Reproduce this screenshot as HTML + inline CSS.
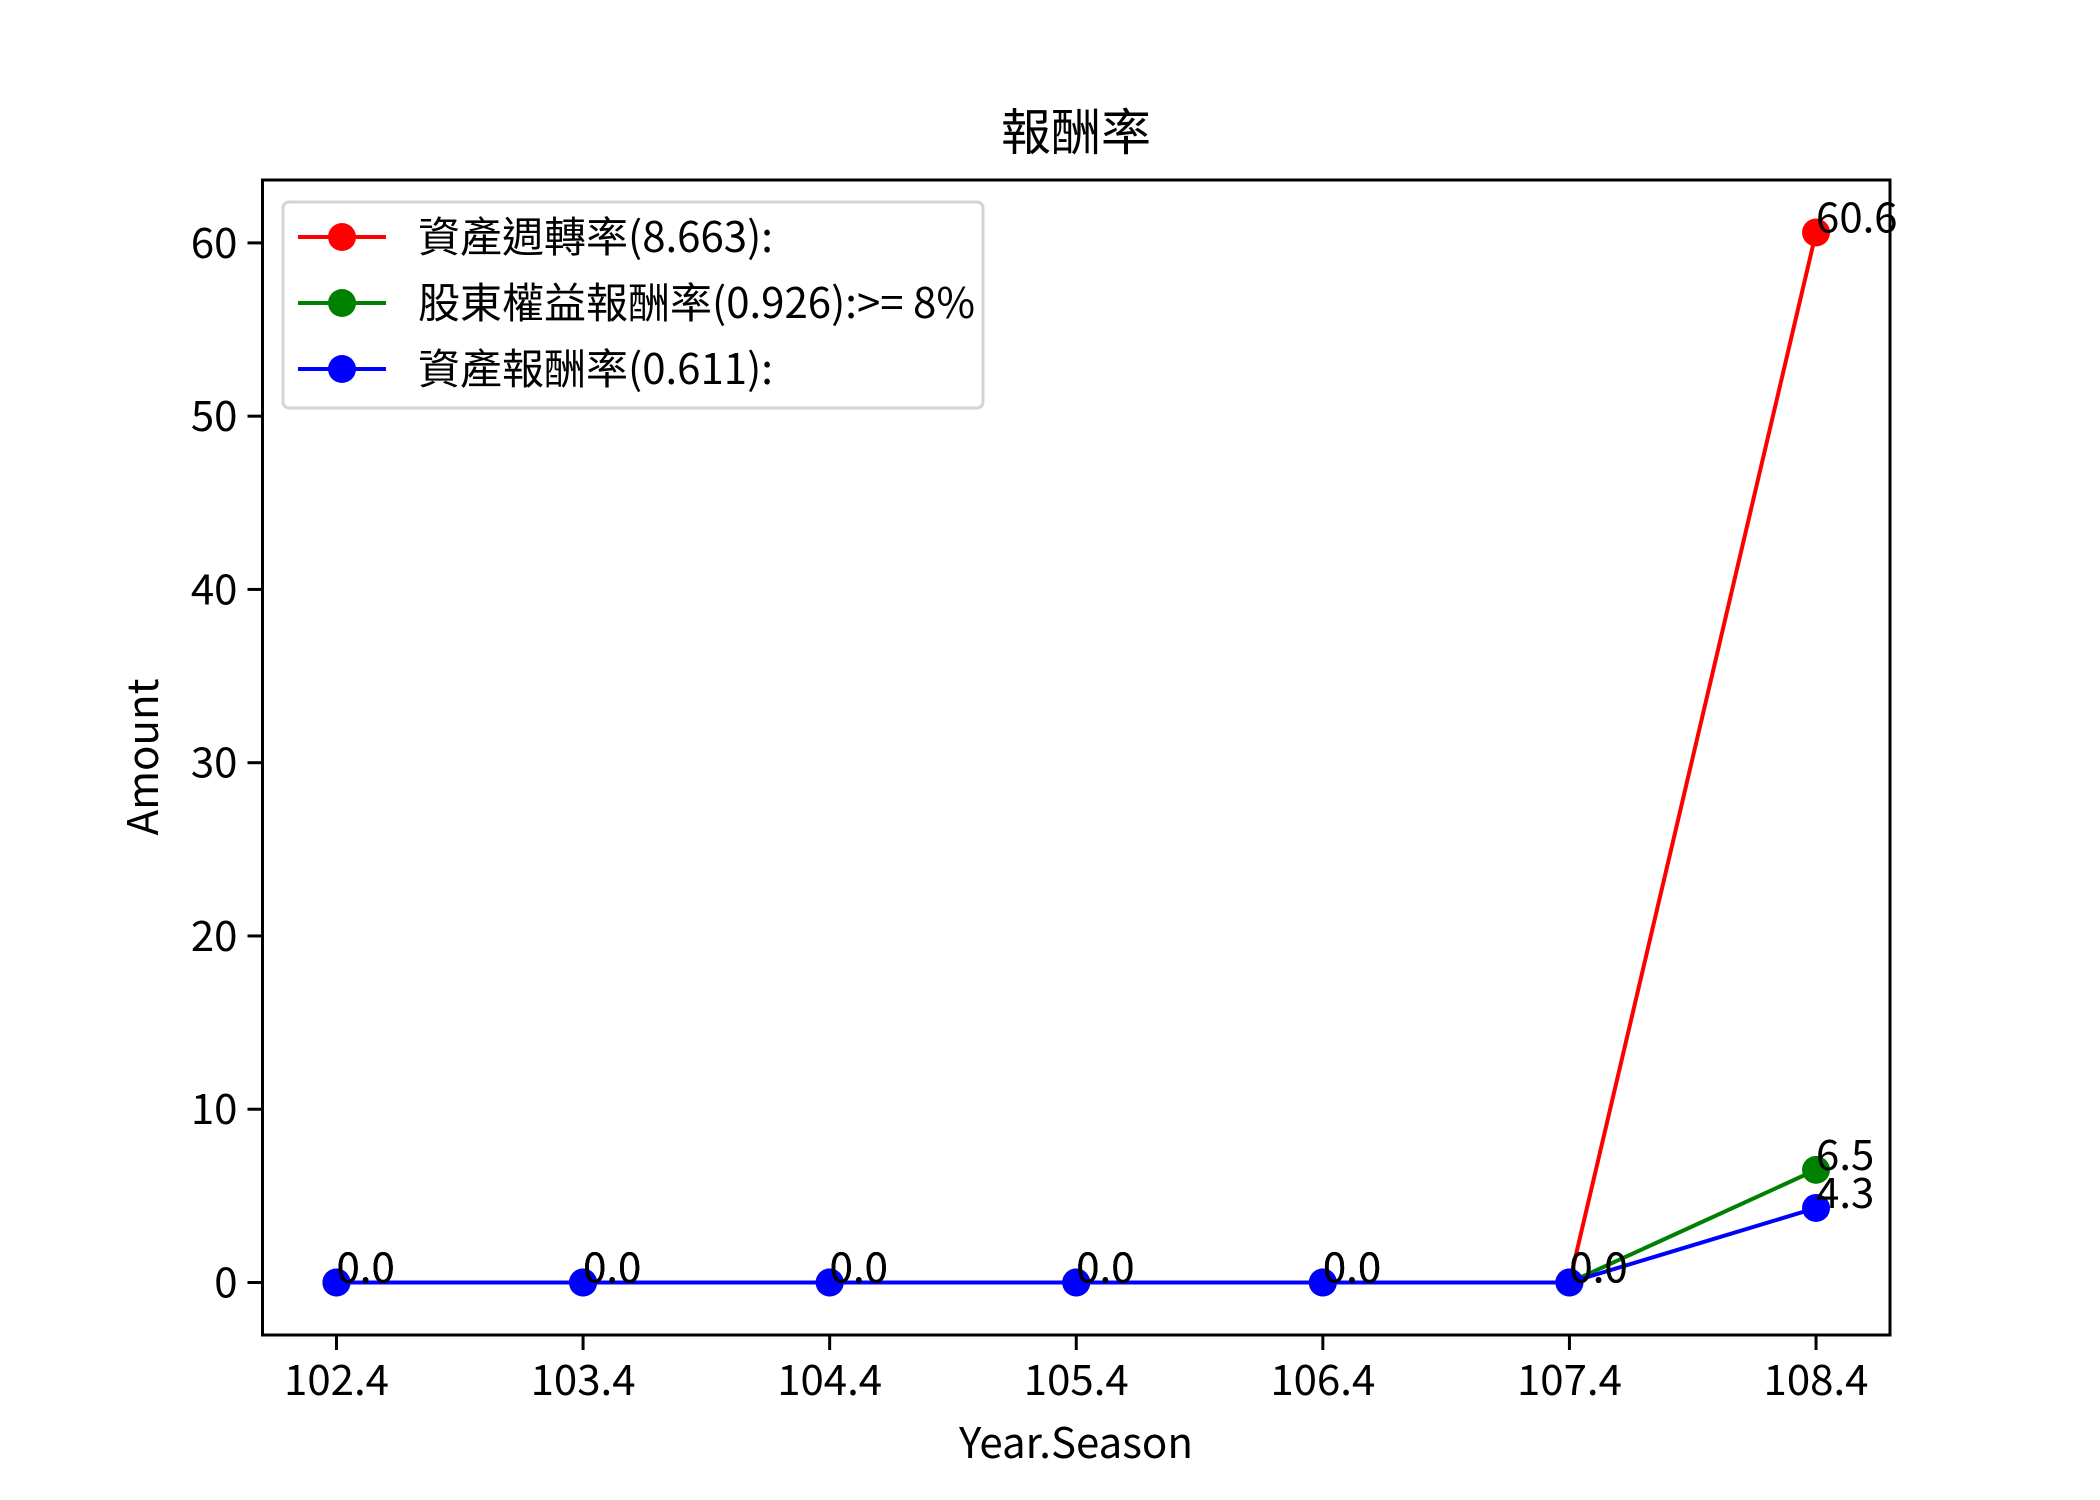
<!DOCTYPE html>
<html><head><meta charset="utf-8"><style>
html,body{margin:0;padding:0;background:#fff}
svg{display:block}
text{font-family:"Liberation Sans","Noto Sans CJK TC",sans-serif}
.t{font-family:"Noto Sans CJK TC","Liberation Sans",sans-serif}
</style></head><body>
<svg id="chart" width="2100" height="1500" viewBox="0 0 2100 1500" xmlns="http://www.w3.org/2000/svg">
<rect width="2100" height="1500" fill="#fff"/>
<text class="t" x="1076" y="150" font-size="50" text-anchor="middle">報酬率</text>
<g id="plot"></g>
<text class="t" x="1076" y="1458" font-size="42" text-anchor="middle">Year.Season</text>
<text class="t" transform="translate(158,757) rotate(-90)" font-size="42" text-anchor="middle">Amount</text>
</svg>
<script>
const categories = ["102.4","103.4","104.4","105.4","106.4","107.4","108.4"];
const turnover = [0,0,0,0,0,0,60.6];
const roe = [0,0,0,0,0,0,6.5];
const roa = [0,0,0,0,0,0,4.3];
const yTicks = [0,10,20,30,40,50,60];
const seriesNames = ["資產週轉率(8.663):","股東權益報酬率(0.926):>= 8%","資產報酬率(0.611):"];
const colors = ["#ff0000","#008000","#0000ff"];

const L=262.5,R=1890,T=180,B=1335;
const n=categories.length;
const xmin=-0.3*(n-1)/6*1, xmax=(n-1)+0.3*(n-1)/6;
const all=turnover.concat(roe,roa);
const dmax=Math.max(...all), dmin=Math.min(...all);
const pad=(dmax-dmin)*0.05;
const ymin=dmin-pad, ymax=dmax+pad;
const X=i=>L+(i-xmin)/(xmax-xmin)*(R-L);
const Y=v=>B-(v-ymin)/(ymax-ymin)*(B-T);
const NS="http://www.w3.org/2000/svg";
const g=document.getElementById('plot');
function mk(tag,attrs,parent){const e=document.createElementNS(NS,tag);for(const k in attrs)e.setAttribute(k,attrs[k]);(parent||g).appendChild(e);return e;}

// ticks
categories.forEach((c,i)=>{
  const tk=mk('line',{x1:X(i),x2:X(i),y1:B,y2:B+15,stroke:'#000','stroke-width':3});
  
  
  const t=mk('text',{x:X(i),y:B+60,'font-size':42,'text-anchor':'middle',class:'t'});
  t.textContent=c;
  
  
});
yTicks.forEach(v=>{
  const tk=mk('line',{x1:L-15,x2:L,y1:Y(v),y2:Y(v),stroke:'#000','stroke-width':3});
  
  
  const t=mk('text',{x:L-25,y:Y(v)+15,'font-size':42,'text-anchor':'end',class:'t'});
  t.textContent=v;
  
  
});

// series
[turnover,roe,roa].forEach((arr,s)=>{
  const pts=arr.map((v,i)=>X(i)+','+Y(v)).join(' ');
  const pl=mk('polyline',{points:pts,fill:'none',stroke:colors[s],'stroke-width':4});
  
  
  arr.forEach((v,i)=>{
    const c=mk('circle',{cx:X(i),cy:Y(v),r:14,fill:colors[s]});
    
    
  });
});
[turnover,roe,roa].forEach((arr,s)=>{
  arr.forEach((v,i)=>{
    const t=mk('text',{x:X(i),y:Y(v),'font-size':42,class:'t'});
    t.textContent=v.toFixed(1);
    
    
  });
});

// frame
const fr=mk('rect',{x:L,y:T,width:R-L,height:B-T,fill:'none',stroke:'#000','stroke-width':3});



// legend
const lg=mk('g',{});


mk('rect',{x:283,y:202,width:700,height:206,rx:6,fill:'#fff','fill-opacity':0.8,stroke:'#d4d4d4','stroke-width':3},lg);
seriesNames.forEach((nm,s)=>{
  const y=237+s*66;
  const e=mk('g',{},lg);
  
  
  mk('line',{x1:298,x2:386,y1:y,y2:y,stroke:colors[s],'stroke-width':4},e);
  mk('circle',{cx:342,cy:y,r:14,fill:colors[s]},e);
  const t=mk('text',{x:418,y:y+15,'font-size':42,class:'t'},e);
  t.textContent=nm;
});
</script>
</body></html>
